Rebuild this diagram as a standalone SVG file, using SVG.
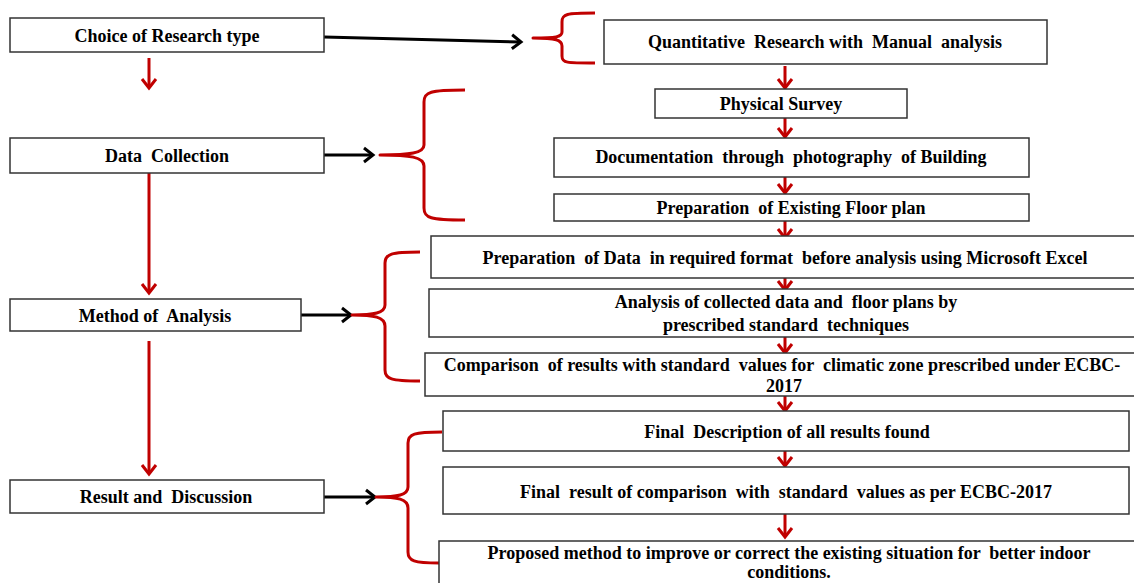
<svg xmlns="http://www.w3.org/2000/svg" width="1134" height="583" viewBox="0 0 1134 583">
<defs>
<marker id="redHead" markerUnits="userSpaceOnUse" markerWidth="20" markerHeight="20" refX="10" refY="10" orient="auto" overflow="visible">
<path d="M1,3 L10,10 L1,17" fill="none" stroke="#C00000" stroke-width="3"/>
</marker>
<marker id="blackHead" markerUnits="userSpaceOnUse" markerWidth="20" markerHeight="20" refX="10" refY="10" orient="auto" overflow="visible">
<path d="M1,3 L10,10 L1,17" fill="none" stroke="#000" stroke-width="3"/>
</marker>
</defs>
<style>
.box{fill:#fff;stroke:#333;stroke-width:1.5}
.t{font-family:"Liberation Serif","Times New Roman",serif;font-weight:bold;font-size:18px;fill:#000;text-anchor:middle;white-space:pre}
.red{fill:none;stroke:#C00000;stroke-width:3;marker-end:url(#redHead)}
.blk{fill:none;stroke:#000;stroke-width:3;marker-end:url(#blackHead)}
.brace{fill:none;stroke:#C00000;stroke-width:3;stroke-linejoin:round}
</style>
<rect width="1134" height="583" fill="#fff"/>

<g id="connectors">
<path class="blk" d="M324,37 L521,42"/>
<path class="blk" d="M324,155 L373,155"/>
<path class="blk" d="M301,315 L351,315"/>
<path class="blk" d="M324,497 L375,497"/>
<path class="red" d="M149,58 L149,88"/>
<path class="red" d="M149,173 L149,293"/>
<path class="red" d="M149,341 L149,474"/>
<path class="red" d="M785,66 L785,88"/>
<path class="red" d="M785,118 L785,137"/>
<path class="red" d="M785,177 L785,193"/>
<path class="red" d="M785,221 L785,238"/>
<path class="red" d="M785,278 L785,290"/>
<path class="red" d="M785,337 L785,353"/>
<path class="red" d="M785,396 L785,411"/>
<path class="red" d="M785,451 L785,466"/>
<path class="red" d="M785,514 L785,537"/>
<path class="brace" d="M595,13 C566,13 562,14 562,22 L562,32 C562,37 556,38 533,38 C556,38 562,40 562,46 L562,56 C562,63 566,63 595,63"/>
<path class="brace" d="M465,90 C430,90 424,92 424,102 L424,145 C424,153 410,155 380,155 C410,155 424,157 424,166 L424,208 C424,218 430,220 465,220"/>
<path class="brace" d="M420,252 C391,252 385,254 385,263 L385,305 C385,313 374,315 352,315 C374,315 385,317 385,326 L385,370 C385,379 391,381 420,381"/>
<path class="brace" d="M442,432 C414,432 408,434 408,443 L408,487 C408,495 398,497 376,497 C398,497 408,499 408,508 L408,552 C408,561 414,563 439,563"/>
</g>

<g id="n-choice"><rect class="box" x="10" y="18" width="314" height="34"/><text class="t" x="167" y="42">Choice of Research type</text></g>
<g id="n-data"><rect class="box" x="10" y="138" width="314" height="35"/><text class="t" x="167" y="162">Data  Collection</text></g>
<g id="n-method"><rect class="box" x="10" y="299" width="291" height="32"/><text class="t" x="155" y="322">Method of  Analysis</text></g>
<g id="n-result"><rect class="box" x="10" y="480" width="314" height="33"/><text class="t" x="166" y="503">Result and  Discussion</text></g>

<g id="n-quant"><rect class="box" x="604" y="20" width="443" height="44"/><text class="t" x="825" y="48">Quantitative  Research with  Manual  analysis</text></g>
<g id="n-survey"><rect class="box" x="655" y="89" width="252" height="29"/><text class="t" x="781" y="110">Physical Survey</text></g>
<g id="n-doc"><rect class="box" x="554" y="138" width="475" height="39"/><text class="t" x="791" y="163">Documentation  through  photography  of Building</text></g>
<g id="n-floor"><rect class="box" x="554" y="194" width="475" height="27"/><text class="t" x="791" y="214">Preparation  of Existing Floor plan</text></g>
<g id="n-prepdata"><rect class="box" x="431" y="236" width="710" height="42"/><text class="t" x="785" y="264">Preparation  of Data  in required format  before analysis using Microsoft Excel</text></g>
<g id="n-analysis"><rect class="box" x="429" y="289" width="712" height="48"/><text class="t" x="786" y="308">Analysis of collected data and  floor plans by</text><text class="t" x="786" y="331">prescribed standard  techniques</text></g>
<g id="n-compare"><rect class="box" x="425" y="353" width="716" height="43"/><text class="t" x="782" y="371">Comparison  of results with standard  values for  climatic zone prescribed under ECBC-</text><text class="t" x="784" y="392">2017</text></g>
<g id="n-finaldesc"><rect class="box" x="443" y="411" width="686" height="40"/><text class="t" x="787" y="438">Final  Description of all results found</text></g>
<g id="n-finalresult"><rect class="box" x="443" y="467" width="686" height="47"/><text class="t" x="786" y="498">Final  result of comparison  with  standard  values as per ECBC-2017</text></g>
<g id="n-proposed"><rect class="box" x="439" y="541" width="702" height="50"/><text class="t" x="789" y="559">Proposed method to improve or correct the existing situation for  better indoor</text><text class="t" x="789" y="578">conditions.</text></g>
</svg>
